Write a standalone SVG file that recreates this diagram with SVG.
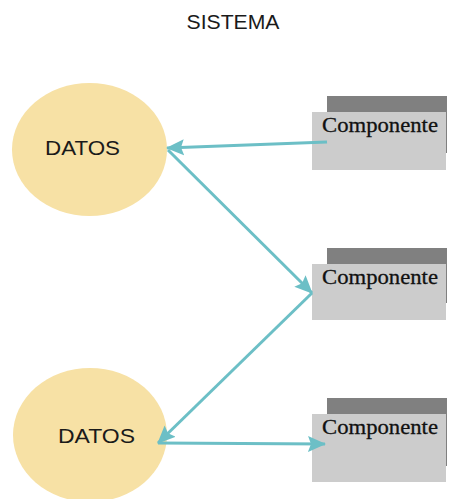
<svg xmlns="http://www.w3.org/2000/svg" width="450" height="499" viewBox="0 0 450 499">
<style>
.ell{fill:#f7e1a5;stroke:none}
.lbl{font-family:"Liberation Sans",Arial,sans-serif;font-size:21px;fill:#1a1a1a}
.shadow{fill:#808080}
.front{fill:#cccccc}
.comp{font-family:"Liberation Serif","Times New Roman",serif;font-size:22px;fill:#111;stroke:#111;stroke-width:0.3}
.conn{stroke:#6cbfc6;stroke-width:3;fill:none}
</style>
<defs>
<marker id="ah" markerUnits="userSpaceOnUse" markerWidth="18" markerHeight="18" viewBox="0 0 18 18" refX="17" refY="9" orient="auto">
<path d="M0,1 L18,9 L0,17 L3,9 Z" fill="#6cbfc6"/>
</marker>
</defs>
<text x="233" y="29" text-anchor="middle" font-family="Liberation Sans, Arial, sans-serif" font-size="21" fill="#1a1a1a" textLength="93" lengthAdjust="spacingAndGlyphs">SISTEMA</text>
<g id="datos1">
<ellipse class="ell" cx="89.5" cy="149.5" rx="77.5" ry="66.5"/>
<text class="lbl" x="82.5" y="155" text-anchor="middle" textLength="75" lengthAdjust="spacingAndGlyphs">DATOS</text>
</g>
<g id="datos2">
<ellipse class="ell" cx="90" cy="435" rx="77" ry="67"/>
<text class="lbl" x="96.5" y="443" text-anchor="middle" textLength="77" lengthAdjust="spacingAndGlyphs">DATOS</text>
</g>
<g id="comp1">
<rect class="shadow" x="327" y="96" width="120" height="57"/>
<rect class="front" x="312" y="112" width="134" height="58"/>
<text class="comp" x="322" y="132" textLength="116" lengthAdjust="spacingAndGlyphs">Componente</text>
</g>
<g id="comp2">
<rect class="shadow" x="327" y="248" width="120" height="55"/>
<rect class="front" x="312" y="264" width="134" height="56"/>
<text class="comp" x="322" y="284" textLength="116" lengthAdjust="spacingAndGlyphs">Componente</text>
</g>
<g id="comp3">
<rect class="shadow" x="327" y="398" width="120" height="68"/>
<rect class="front" x="312" y="414" width="134" height="68"/>
<text class="comp" x="322" y="434" textLength="116" lengthAdjust="spacingAndGlyphs">Componente</text>
</g>
<g id="connectors">
<line class="conn" x1="327" y1="142" x2="167" y2="148" marker-end="url(#ah)"/>
<line class="conn" x1="168" y1="150" x2="312" y2="293" marker-end="url(#ah)"/>
<line class="conn" x1="312" y1="293" x2="158" y2="443" marker-end="url(#ah)"/>
<line class="conn" x1="158" y1="443" x2="325" y2="444" marker-end="url(#ah)"/>
</g>
</svg>
